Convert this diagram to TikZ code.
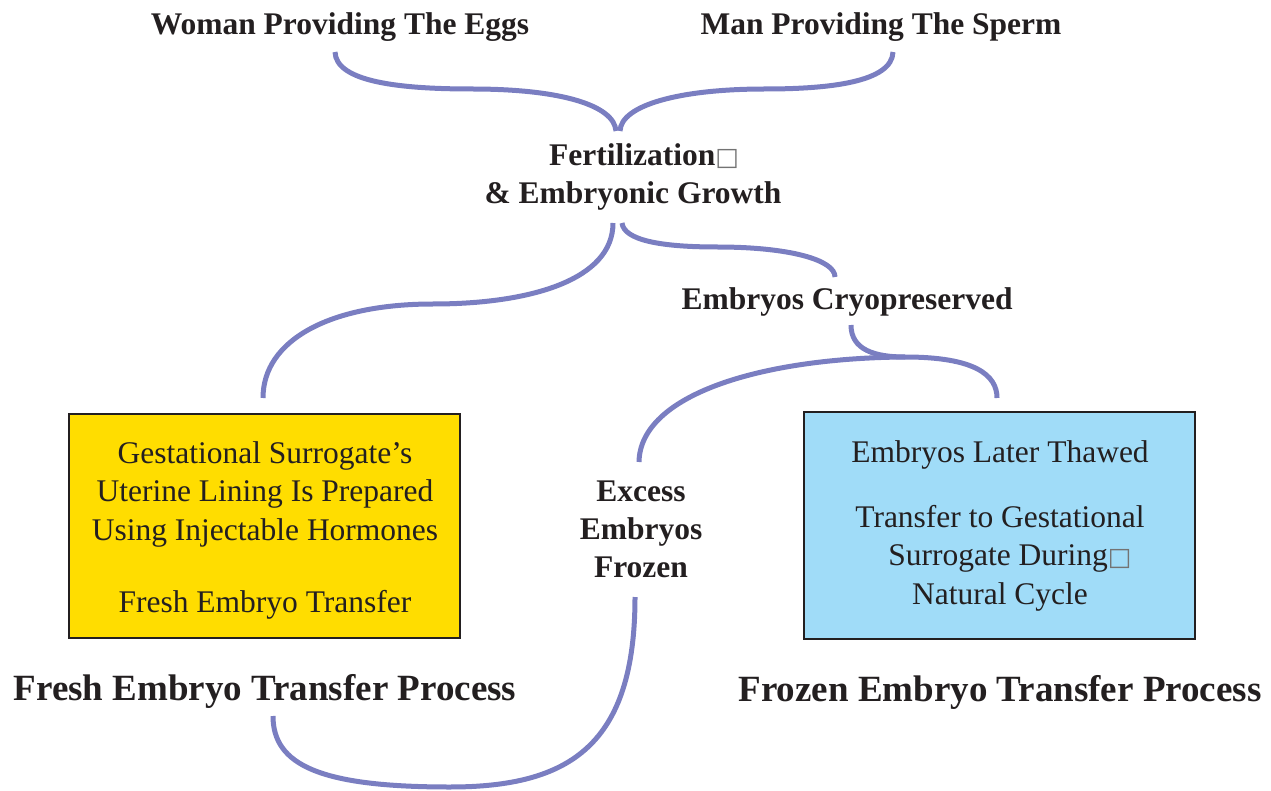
\documentclass[tikz,border=0pt]{standalone}
\usepackage{fontspec}
\setmainfont{Liberation Serif}
\newfontfamily\symfont{DejaVu Sans}
\definecolor{linkc}{RGB}{122,126,193}
\definecolor{yellowc}{RGB}{255,221,0}
\definecolor{bluec}{RGB}{160,220,248}
\definecolor{ink}{RGB}{35,31,32}
\newcommand{\ndbox}{{\color{black!55}\symfont\fontsize{25}{25}\selectfont □}}
\tikzset{
  lbl/.style={font=\fontsize{31.5}{38}\selectfont\bfseries, text=ink, inner sep=0pt, align=center},
  bigtitle/.style={font=\fontsize{37}{44}\selectfont\bfseries, text=ink, inner sep=0pt},
  boxtxt/.style={font=\fontsize{31.5}{38.5}\selectfont, text=ink, inner sep=0pt, align=center},
  panel/.style={draw=ink, line width=2.3pt, inner sep=0pt, minimum width=391pt},
  link/.style={draw=linkc, line width=5pt}
}
\begin{document}
\begin{tikzpicture}[x=1pt,y=-1pt]
\useasboundingbox (0,0) rectangle (1271,791);

% boxes
\node[panel, fill=yellowc, minimum height=224pt] (freshbox) at (264.5,526) {};
\node[panel, fill=bluec, minimum height=227pt] (frozenbox) at (999.5,525.5) {};

% labels (anchor=base is the baseline of the last line)
\node[lbl, anchor=base] (woman) at (340,35) {Woman Providing The Eggs};
\node[lbl, anchor=base] (man) at (881,35) {Man Providing The Sperm};
\node[lbl, anchor=base] (fert) at (633,204) {\hspace*{22pt}Fertilization\ndbox\\\& Embryonic Growth};
\node[lbl, anchor=base] (cryo) at (847,310) {Embryos Cryopreserved};
\node[lbl, anchor=base] (excess) at (641,577) {Excess\\Embryos\\Frozen};
\node[boxtxt, anchor=base] (freshtext) at (265,612) {Gestational Surrogate’s\\Uterine Lining Is Prepared\\Using Injectable Hormones\\[33.5pt]Fresh Embryo Transfer};
\node[boxtxt, anchor=base] (frozentext) at (1000,604) {Embryos Later Thawed\\[26.5pt]Transfer to Gestational\\\hspace*{20pt}Surrogate During\ndbox\\Natural Cycle};
\node[bigtitle, anchor=base] (freshtitle) at (265,700) {Fresh Embryo Transfer Process};
\node[bigtitle, anchor=base] (frozentitle) at (1000,701) {Frozen Embryo Transfer Process};

% connector end points
\coordinate (w1) at (335,52);
\coordinate (m1) at (893,52);
\coordinate (f1) at (616,131);
\coordinate (f2) at (620,131);
\coordinate (wmid) at (472,89);
\coordinate (mmid) at (765,89);
\coordinate (g1) at (613,223);
\coordinate (g2) at (622,223);
\coordinate (gmid) at (433,304);
\coordinate (b1) at (263,398);
\coordinate (cmid) at (717,247);
\coordinate (c1) at (835,277);
\coordinate (c2) at (851,325);
\coordinate (J) at (905,357);
\coordinate (b2) at (997,398);
\coordinate (e1) at (639,462);
\coordinate (e2) at (635,597);
\coordinate (bot) at (450,787);
\coordinate (t1) at (273,716);

\draw[link] (w1) .. controls (336,82) and (400,89) .. (wmid) .. controls (560,89) and (614,105) .. (f1);
\draw[link] (m1) .. controls (892,82) and (830,89) .. (mmid) .. controls (680,89) and (621,105) .. (f2);
\draw[link] (g1) .. controls (613,280) and (530,304) .. (gmid) .. controls (330,304) and (263,340) .. (b1);
\draw[link] (g2) .. controls (624,240) and (660,247) .. (cmid) .. controls (790,247) and (835,260) .. (c1);
\draw[link] (c2) .. controls (851,350) and (875,357) .. (J) .. controls (975,357) and (997,375) .. (b2);
\draw[link] (J) .. controls (760,358) and (640,395) .. (e1);
\draw[link] (e2) .. controls (635,745) and (570,787) .. (bot) .. controls (320,787) and (273,765) .. (t1);
\end{tikzpicture}
\end{document}
